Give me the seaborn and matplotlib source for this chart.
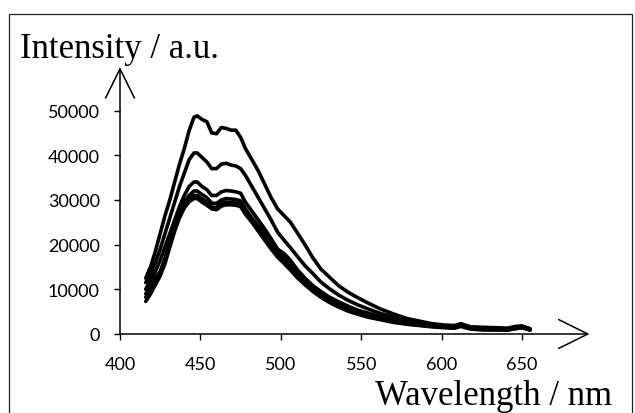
import numpy as np
import pandas as pd
import matplotlib
matplotlib.use("Agg")
import matplotlib.pyplot as plt
from matplotlib.patches import Rectangle
import seaborn as sns

# Emission wavelengths (nm) shared by all spectra
wavelength = [416, 419, 422, 425, 428, 431, 434, 437, 440, 443,
              446, 448, 451, 454, 457, 460, 463, 466, 469, 472,
              475, 478, 482, 486, 490, 494, 498, 502, 506, 510,
              515, 520, 525, 530, 536, 542, 548, 555, 562, 570,
              578, 586, 594, 602, 608, 612, 618, 626, 634, 641,
              646, 650, 655]

spectrum_a = [12500, 15000, 18500, 22500, 26500, 30000, 34000, 38000, 41500, 45500,
              48500, 48800, 48000, 47500, 45000, 44800, 46200, 46000, 45600, 45600,
              44000, 41500, 39000, 36500, 33500, 30500, 28000, 26500, 25000, 22800,
              20000, 17000, 14500, 12800, 10800, 9300, 8100, 6800, 5600, 4500,
              3500, 2900, 2300, 2000, 1900, 2300, 1600, 1500, 1400, 1300,
              1700, 1800, 1200]
spectrum_b = [11500, 13500, 16000, 19000, 22500, 26000, 29500, 33000, 36000, 39000,
              40500, 40500, 39500, 38500, 37000, 37000, 38000, 38200, 37800, 37600,
              37000, 35500, 33000, 30500, 28000, 25500, 22800, 21000, 19300, 17500,
              15300, 13500, 11600, 10200, 8700, 7500, 6500, 5500, 4600, 3800,
              3100, 2500, 2100, 1800, 1700, 2100, 1500, 1300, 1200, 1200,
              1500, 1700, 1100]
spectrum_c = [10000, 12000, 14000, 16500, 19500, 22500, 25500, 28500, 31000, 33000,
              34000, 34000, 33000, 32300, 31000, 31000, 31800, 32100, 32000, 31800,
              31500, 29500, 27500, 25500, 23500, 21300, 19000, 18000, 16500, 14500,
              12500, 10800, 9500, 8300, 7200, 6200, 5300, 4600, 3900, 3200,
              2600, 2200, 1900, 1700, 1600, 2000, 1400, 1200, 1100, 1100,
              1400, 1600, 1000]
spectrum_d = [9000, 10500, 12500, 14000, 17000, 20500, 24000, 27000, 29500, 31000,
              32000, 32000, 31200, 30500, 29300, 29200, 30000, 30300, 30200, 30100,
              29800, 28000, 26000, 24200, 22200, 20000, 18200, 17000, 15500, 13800,
              12000, 10300, 9000, 7900, 6800, 5900, 5000, 4300, 3600, 3000,
              2500, 2100, 1800, 1600, 1500, 1900, 1300, 1100, 1000, 1000,
              1300, 1500, 1000]
spectrum_e = [8200, 10000, 12000, 13500, 16300, 20000, 23500, 26500, 28800, 30200,
              31000, 31000, 30200, 29500, 28400, 28300, 29200, 29500, 29400, 29300,
              29000, 27300, 25400, 23500, 21500, 19500, 17700, 16300, 14800, 13200,
              11500, 9900, 8600, 7500, 6400, 5500, 4700, 4000, 3400, 2800,
              2300, 2000, 1700, 1500, 1400, 1800, 1200, 1000, 1000, 900,
              1200, 1500, 900]
spectrum_f = [7300, 9000, 11000, 13000, 15800, 19500, 23000, 26000, 28200, 29600,
              30300, 30300, 29500, 28800, 28000, 27800, 28600, 28900, 28900, 28800,
              28500, 26800, 25000, 23000, 21000, 19000, 17200, 15800, 14300, 12700,
              11000, 9500, 8200, 7100, 6000, 5100, 4400, 3700, 3200, 2600,
              2200, 1900, 1600, 1400, 1300, 1700, 1100, 900, 900, 900,
              1200, 1400, 900]

x_ticks = [400, 450, 500, 550, 600, 650]
y_ticks = [0, 10000, 20000, 30000, 40000, 50000]

spectra = {"a": spectrum_a, "b": spectrum_b, "c": spectrum_c,
           "d": spectrum_d, "e": spectrum_e, "f": spectrum_f}
df = pd.concat(
    [pd.DataFrame({"wavelength": wavelength, "intensity": vals, "run": name})
     for name, vals in spectra.items()],
    ignore_index=True)

sns.set_theme(style="white")
plt.rcParams["font.family"] = ["Lato", "DejaVu Sans"]

W, H = 635, 414
fig = plt.figure(figsize=(W / 100, H / 100), dpi=100)

# axes placed so that (400 nm, 0) sits at pixel (120, 335)
x0, y0 = 120, 335
px_per_nm = 402 / 250
px_per_unit = 44.7 / 10000
xmax, ymax = 700, 60000
ax = fig.add_axes([x0 / W, (H - y0) / H,
                   (xmax - 400) * px_per_nm / W, ymax * px_per_unit / H])

sns.lineplot(data=df, x="wavelength", y="intensity", units="run",
             estimator=None, color="black", lw=2.6, ax=ax, legend=False)

ax.set_xlim(400, xmax)
ax.set_ylim(0, ymax)
for s in ax.spines.values():
    s.set_visible(False)
ax.set_xticks(x_ticks)
ax.set_yticks(y_ticks)
ax.set_xticklabels([str(v) for v in x_ticks])
ax.set_yticklabels([str(v) for v in y_ticks])
ax.tick_params(axis="both", which="major", direction="out", length=4.5,
               width=1.0, color="black", labelsize=13, labelcolor="black")
ax.tick_params(axis="x", pad=11, bottom=True)
ax.tick_params(axis="y", pad=10, left=True)
ax.set_xlabel("")
ax.set_ylabel("")
ax.set_facecolor("none")

# axis lines with open arrow heads
arrow = dict(arrowstyle="->,head_length=1.05,head_width=0.52", lw=1.1,
             color="black", mutation_scale=20, shrinkA=0, shrinkB=0)
ax.annotate("", xy=(692, 0), xytext=(400, 0), xycoords="data",
            arrowprops=arrow, annotation_clip=False)
ax.annotate("", xy=(400, 59700), xytext=(400, 0), xycoords="data",
            arrowprops=arrow, annotation_clip=False)

serif = ["Liberation Serif", "DejaVu Serif"]
fig.text(20 / W, 1 - 58 / H, "Intensity / a.u.", family=serif, fontsize=25,
         va="baseline", ha="left", color="black")
fig.text(375 / W, 1 - 405 / H, "Wavelength / nm", family=serif, fontsize=25,
         va="baseline", ha="left", color="black")

# outer frame
fig.patches.append(Rectangle((9 / W, -0.1), (632 - 9) / W, 0.1 + 1 - 15 / H,
                             transform=fig.transFigure, fill=False,
                             edgecolor="#222222", lw=0.9))

fig.savefig("out.png", dpi=100)
